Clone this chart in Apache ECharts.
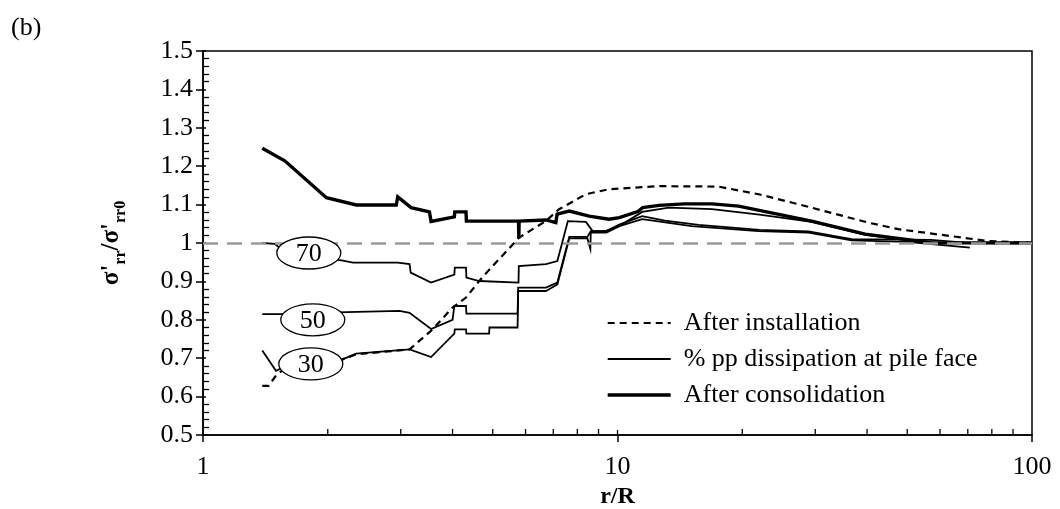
<!DOCTYPE html>
<html><head><meta charset="utf-8">
<script src="https://cdn.jsdelivr.net/npm/echarts@6/dist/echarts.min.js"></script>
<style>html,body{margin:0;padding:0;background:#fff}#c{width:1060px;height:509px}</style>
</head><body><div id="c"></div>
<script>
// ---- data (r/R, sigma'rr / sigma'rr0) ----
const installation = [[1.39,0.628],[1.44,0.628],[1.5,0.655],[1.57,0.672],[1.9,0.68],[2.17,0.697],[2.34,0.710],[3.15,0.723],[3.58,0.775],[4.0,0.832],[4.31,0.858],[4.64,0.901],[4.9,0.930],[5.79,1.014],[6.71,1.057],[7.23,1.088],[8.39,1.127],[9.53,1.140],[12.6,1.148],[17.5,1.147],[21.9,1.127],[27.3,1.101],[40.3,1.053],[47.6,1.036],[78.4,1.005],[100,1.0]];
const consolidation = [[1.39,1.247],[1.575,1.214],[1.985,1.118],[2.344,1.099],[2.925,1.099],[2.95,1.120],[3.178,1.092],[3.518,1.081],[3.55,1.056],[4.04,1.068],[4.05,1.081],[4.31,1.081],[4.32,1.057],[5.77,1.057],[5.78,1.012],[5.79,1.057],[6.72,1.060],[7.1,1.053],[7.15,1.075],[7.65,1.083],[8.54,1.070],[9.54,1.062],[10.1,1.066],[11.2,1.082],[11.5,1.092],[12.6,1.098],[14.5,1.102],[16.9,1.102],[19.6,1.096],[29.4,1.057],[39.6,1.023],[57.2,1.001],[100,1.0]];
const diss30 = [[1.39,0.720],[1.5,0.667],[1.56,0.676],[2.17,0.697],[2.34,0.712],[3.15,0.723],[3.55,0.703],[4.04,0.764],[4.05,0.775],[4.31,0.775],[4.32,0.764],[4.9,0.764],[4.91,0.780],[5.74,0.780],[5.76,0.875],[6.72,0.875],[7.16,0.892],[7.65,1.012],[8.46,1.012],[8.6,0.985],[8.62,1.027],[9.4,1.027],[10.1,1.044],[11.47,1.081],[13.3,1.092],[16.9,1.088],[22,1.074],[29.4,1.055],[39.6,1.021],[57.2,0.999],[100,1.0]];
const diss50 = [[1.39,0.815],[1.52,0.815],[2.22,0.820],[2.98,0.823],[3.15,0.818],[3.55,0.776],[4.0,0.800],[4.04,0.836],[4.31,0.836],[4.32,0.816],[5.74,0.816],[5.76,0.884],[6.72,0.884],[7.16,0.897],[7.65,1.016],[8.46,1.016],[8.62,1.031],[9.4,1.031],[10.1,1.048],[11.47,1.070],[13,1.058],[15.7,1.047],[22,1.034],[28.9,1.030],[36.7,1.010],[57,1.008],[69,1.001],[100,1.0]];
const diss70 = [[1.39,1.0],[1.49,0.998],[1.6,0.97],[2.16,0.955],[2.3,0.949],[2.95,0.949],[3.15,0.945],[3.17,0.923],[3.55,0.897],[4.04,0.918],[4.05,0.936],[4.31,0.936],[4.32,0.910],[4.64,0.901],[5.77,0.897],[5.78,0.940],[6.72,0.945],[7.16,0.953],[7.59,1.057],[8.39,1.055],[8.71,1.031],[9.35,1.031],[10.1,1.044],[11.47,1.062],[15.1,1.044],[21.9,1.031],[28.9,1.027],[36.7,1.007],[50,1.003],[70.8,0.988]];
const legendNames = ['After installation','% pp dissipation at pile face','After consolidation'];
const dissLabels = [{text:'70', x:1.80, y:0.974},{text:'50', x:1.84, y:0.800},{text:'30', x:1.82, y:0.685}];
const xMinorTicks = [2,3,4,5,6,7,8,9,20,30,40,50,60,70,80,90];
const xInnerMajor = [10];
const refLine = 1.0;

const FONT = 'Liberation Serif';
const chart = echarts.init(document.getElementById('c'), null, {renderer:'canvas'});
function ln(name, data, width, type, z){
  return {type:'line', name, data, symbol:'none', showSymbol:false, silent:true, z:z||2,
    lineStyle:{color:'#000', width, type, cap:'butt', join:'miter'}, itemStyle:{color:'#000'}};
}
const s70 = ln('70%', diss70, 1.8, 'solid');
s70.markLine = {silent:true, symbol:['none','none'], label:{show:false},
  lineStyle:{color:'#9a9a9a', width:2.5, type:[15,9]}, data:[{yAxis:refLine}]};
const option = {
  animation:false,
  backgroundColor:'#fff',
  title:{text:'(b)', left:6, top:10, textStyle:{fontFamily:FONT, fontSize:26, fontWeight:'normal', color:'#000'}},
  grid:{left:203, right:28, top:51, bottom:74, show:true, borderColor:'#000', borderWidth:1.5, containLabel:false, outerBoundsMode:'none'},
  legend:{data:legendNames, orient:'vertical', left:601, top:305, itemWidth:63, itemHeight:12, itemGap:10,
    itemStyle:{opacity:0}, lineStyle:{width:'inherit'},
    textStyle:{fontFamily:FONT, fontSize:26, color:'#000', padding:[0,0,0,8]}},
  xAxis:[{type:'log', logBase:10, min:1, max:100, name:'r/R', nameLocation:'middle', nameGap:37,
    nameTextStyle:{fontFamily:FONT, fontSize:24, fontWeight:'bold', color:'#000'},
    axisLine:{lineStyle:{color:'#000', width:1.5}},
    axisTick:{show:true, length:7, lineStyle:{color:'#000', width:1.5}},
    axisLabel:{fontFamily:FONT, fontSize:26, color:'#000', margin:19},
    splitLine:{show:false}, minorTick:{show:false}}],
  yAxis:[{type:'value', min:0.5, max:1.5, interval:0.1, position:'left',
    name:"{m|σ'}{s|rr}{m|/σ'}{s|rr0}", nameLocation:'middle', nameRotate:90, nameGap:74,
    nameTextStyle:{rich:{m:{fontFamily:FONT, fontSize:25, fontWeight:'bold', color:'#000', lineHeight:26},
      s:{fontFamily:FONT, fontSize:16, fontWeight:'bold', color:'#000', lineHeight:34, verticalAlign:'bottom'}}},
    axisLine:{show:true, lineStyle:{color:'#000', width:1.5}},
    axisTick:{show:true, length:7, lineStyle:{color:'#000', width:1.5}},
    axisLabel:{fontFamily:FONT, fontSize:26, color:'#000', margin:10},
    splitLine:{show:false}},
   {type:'value', min:0.5, max:1.5, interval:0.1, position:'left',
    axisLine:{show:false}, axisLabel:{show:false}, splitLine:{show:false},
    axisTick:{show:true, inside:true, length:3, lineStyle:{color:'#000', width:1.5}},
    minorTick:{show:true, splitNumber:5, length:6, lineStyle:{color:'#000', width:1.3}}}],
  series:[
    ln(legendNames[0], installation, 2.2, [7,5]),
    ln(legendNames[2], consolidation, 3.4, 'solid', 3),
    ln(legendNames[1], diss30, 1.8, 'solid'),
    ln('50%', diss50, 1.8, 'solid'),
    s70
  ]
};
chart.setOption(option);

function addGraphics(){
  const g = [];
  xMinorTicks.concat(xInnerMajor).forEach(v=>{
    const p = chart.convertToPixel({xAxisIndex:0, yAxisIndex:0}, [v, 0.5]);
    const len = xInnerMajor.indexOf(v) >= 0 ? 5 : 6;
    g.push({type:'line', silent:true, z:50, shape:{x1:p[0], y1:p[1], x2:p[0], y2:p[1]-len}, style:{stroke:'#000', lineWidth:1.3}});
  });
  dissLabels.forEach(l=>{
    const p = chart.convertToPixel({xAxisIndex:0, yAxisIndex:0}, [l.x, l.y]);
    g.push({type:'ellipse', silent:true, z:60, shape:{cx:p[0], cy:p[1], rx:32, ry:16}, style:{fill:'#fff', stroke:'#000', lineWidth:1.3}});
    g.push({type:'text', silent:true, z:61, x:p[0], y:p[1]+1, style:{text:l.text, align:'center', verticalAlign:'middle', fontFamily:FONT, fontSize:26, fill:'#000'}});
  });
  chart.setOption({graphic:g});
}
addGraphics();
</script>
</body></html>
